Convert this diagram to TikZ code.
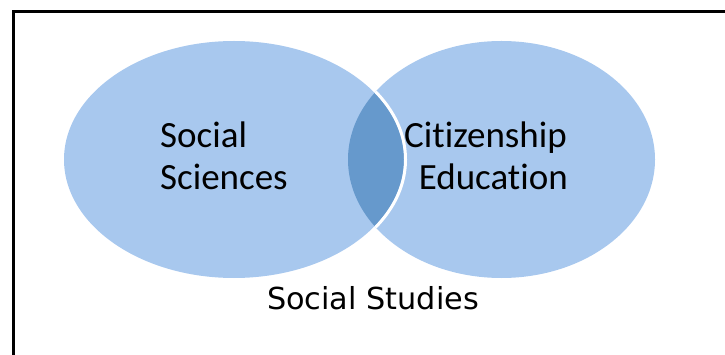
\documentclass[tikz,border=0pt]{standalone}
\usepackage{fontspec}
\newfontfamily\calfont[Ligatures=NoCommon]{Carlito}
\newfontfamily\ssfont{DejaVu Sans}
\definecolor{lightblue}{HTML}{A8C8EE}
\definecolor{lensblue}{HTML}{6699CC}
\begin{document}
\begin{tikzpicture}[x=1pt,y=-1pt,
  vtext/.style={inner sep=0pt, font=\calfont\fontsize{37}{44}\selectfont, text=black},
  ltext/.style={inner sep=0pt, font=\ssfont\fontsize{30.3}{36}\selectfont, text=black}]
\useasboundingbox (0,0) rectangle (725,355);
\clip (0,0) rectangle (725,355);
\draw[line width=3pt] (13.5,380) -- (13.5,11.5) -- (740,11.5);
% ellipses
\fill[lightblue] (234,159.5) ellipse [x radius=170, y radius=118.5];
\fill[lightblue] (501.5,159.5) ellipse [x radius=153.5, y radius=118.5];
\begin{scope}
  \clip (234,159.5) ellipse [x radius=170, y radius=118.5];
  \fill[lensblue] (501.5,159.5) ellipse [x radius=153.5, y radius=118.5];
\end{scope}
\begin{scope}
  \clip (501.5,159.5) ellipse [x radius=153.5, y radius=118.5];
  \draw[white, line width=3pt] (234,159.5) ellipse [x radius=171.5, y radius=120];
\end{scope}
\node[vtext, anchor=base west] (s1) at (160,148) {Social};
\node[vtext, anchor=base west] (s2) at (160,190) {Sciences};
\node[vtext, anchor=base east] (c1) at (567,148) {Citizenship};
\node[vtext, anchor=base east] (c2) at (568,190) {Education};
\node[ltext, anchor=base] (ss) at (373,309) {Social Studies};
\end{tikzpicture}
\end{document}
